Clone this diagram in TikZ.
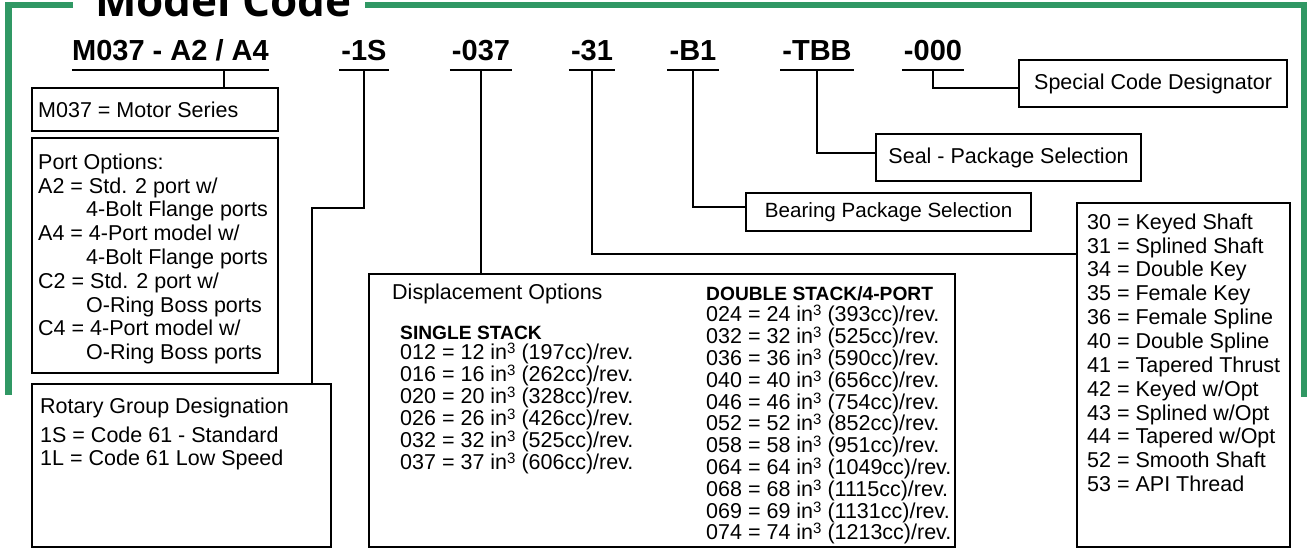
\documentclass[tikz,border=0pt]{standalone}
\usepackage{fontspec}
\setmainfont{Liberation Sans}
\newfontfamily\titlefont{Open Sans}
\usetikzlibrary{positioning}
\definecolor{framegreen}{RGB}{48,152,100}
\newcommand{\cuin}{in\raisebox{6pt}{\fontsize{15}{15}\selectfont 3}}

\begin{document}
\begin{tikzpicture}[
    x=1pt, y=-1pt,
    greenframe/.style={draw=framegreen, line width=6.6pt},
    codetext/.style={font=\bfseries\fontsize{29}{29}\selectfont, anchor=base,
      inner xsep=2pt, inner ysep=9pt, text depth=0pt},
    uline/.style={draw, line width=2pt},
    connector/.style={draw, line width=2pt},
    optbox/.style={draw, line width=2.2pt, anchor=north west, inner sep=0pt},
    tagbox/.style={draw, line width=2.2pt, anchor=north west, inner sep=0pt,
      font=\fontsize{21.5}{24}\selectfont},
    boxtext/.style={anchor=north west, align=left, inner sep=0pt,
      font=\fontsize{21.5}{23.8}\selectfont}
  ]
  \useasboundingbox (0,0) rectangle (1307,548);
  \clip (0,0) rectangle (1307,548);

  % frame and title
  \node[anchor=base west, inner sep=0pt,
    font=\titlefont\bfseries\fontsize{44}{44}\selectfont] (title) at (95,17) {Model Code};
  \draw[greenframe] (73,5) -- (8.3,5) -- (8.3,395);
  \draw[greenframe] (365,5) -- (1304,5) -- (1304,397);

  % model code parts
  \node[codetext, inner xsep=0pt] (series) at (170.5,61) {M037 - A2 / A4};
  \node[codetext] (rotary) at (364,61) {-1S};
  \node[codetext] (displ) at (481,61) {-037};
  \node[codetext] (shaft) at (592,61) {-31};
  \node[codetext] (bearing) at (693,61) {-B1};
  \node[codetext] (seal) at (817,61) {-TBB};
  \node[codetext] (special) at (933,61) {-000};
  \foreach \c in {series,rotary,displ,shaft,bearing,seal,special}
    \draw[uline] (\c.south west) -- (\c.south east);

  % option boxes
  \node[optbox, minimum width=246pt, minimum height=43pt] (seriesbox) at (31,87) {};
  \node[boxtext, below right=14.5pt and 7pt of seriesbox.north west] (seriestext)
    {M037 = Motor Series};

  \node[optbox, minimum width=246pt, minimum height=235pt] (portbox) at (31,137) {};
  \node[boxtext, below right=16.5pt and 7pt of portbox.north west] (porttext)
    {Port Options:\\
     A2 = Std. 2 port w/\\
     \hspace*{48pt}4-Bolt Flange ports\\
     A4 = 4-Port model w/\\
     \hspace*{48pt}4-Bolt Flange ports\\
     C2 = Std. 2 port w/\\
     \hspace*{48pt}O-Ring Boss ports\\
     C4 = 4-Port model w/\\
     \hspace*{48pt}O-Ring Boss ports};

  \node[optbox, minimum width=299pt, minimum height=163pt] (rotarybox) at (31,383) {};
  \node[boxtext, below right=14.5pt and 9pt of rotarybox.north west] (rotarytext)
    {Rotary Group Designation\\[5pt]
     1S = Code 61 - Standard\\
     1L = Code 61 Low Speed};

  \node[optbox, minimum width=586pt, minimum height=273pt] (displbox) at (368,273) {};
  \node[boxtext, below right=10.5pt and 24pt of displbox.north west] (displtitle)
    {Displacement Options};
  \node[boxtext, font=\fontsize{21.5}{22}\selectfont,
    below right=53pt and 32pt of displbox.north west] (single)
    {\textbf{\fontsize{19.2}{22}\selectfont SINGLE STACK}\\[-2pt]
     012 = 12 \cuin{} (197cc)/rev.\\
     016 = 16 \cuin{} (262cc)/rev.\\
     020 = 20 \cuin{} (328cc)/rev.\\
     026 = 26 \cuin{} (426cc)/rev.\\
     032 = 32 \cuin{} (525cc)/rev.\\
     037 = 37 \cuin{} (606cc)/rev.};
  \node[boxtext, font=\fontsize{21.5}{21.8}\selectfont,
    below right=13pt and 338pt of displbox.north west] (double)
    {\textbf{\fontsize{19.2}{22}\selectfont DOUBLE STACK/4-PORT}\\
     024 = 24 \cuin{} (393cc)/rev.\\
     032 = 32 \cuin{} (525cc)/rev.\\
     036 = 36 \cuin{} (590cc)/rev.\\
     040 = 40 \cuin{} (656cc)/rev.\\
     046 = 46 \cuin{} (754cc)/rev.\\
     052 = 52 \cuin{} (852cc)/rev.\\
     058 = 58 \cuin{} (951cc)/rev.\\
     064 = 64 \cuin{} (1049cc)/rev.\\
     068 = 68 \cuin{} (1115cc)/rev.\\
     069 = 69 \cuin{} (1131cc)/rev.\\
     074 = 74 \cuin{} (1213cc)/rev.};

  \node[optbox, minimum width=213pt, minimum height=344pt] (shaftbox) at (1076,202) {};
  \node[boxtext, font=\fontsize{21.5}{23.85}\selectfont,
    below right=11.5pt and 11pt of shaftbox.north west] (shafttext)
    {30 = Keyed Shaft\\
     31 = Splined Shaft\\
     34 = Double Key\\
     35 = Female Key\\
     36 = Female Spline\\
     40 = Double Spline\\
     41 = Tapered Thrust\\
     42 = Keyed w/Opt\\
     43 = Splined w/Opt\\
     44 = Tapered w/Opt\\
     52 = Smooth Shaft\\
     53 = API Thread};

  \node[tagbox, minimum width=268pt, minimum height=47pt] (specialbox) at (1018,59)
    {Special Code Designator};
  \node[tagbox, minimum width=265pt, minimum height=47pt] (sealbox) at (875,133)
    {Seal - Package Selection};
  \node[tagbox, minimum width=285pt, minimum height=38pt,
    font=\fontsize{20.6}{24}\selectfont] (bearingbox) at (745,192)
    {Bearing Package Selection};

  % connectors
  \coordinate (seriesdrop) at ([xshift=53.5pt]series.south);
  \draw[connector] (seriesdrop) -- (seriesdrop |- seriesbox.north);
  \draw[connector] (rotary.south) -- ++(0,138) -| ([xshift=-20pt]rotarybox.north east);
  \draw[connector] (displ.south) -- (displ.south |- displbox.north);
  \draw[connector] (shaft.south) |- ([yshift=-52pt]shaftbox.north west);
  \draw[connector] (bearing.south) |- ([yshift=-15pt]bearingbox.north west);
  \draw[connector] (seal.south) |- ([yshift=-20pt]sealbox.north west);
  \draw[connector] (special.south) |- ([yshift=-29pt]specialbox.north west);
\end{tikzpicture}
\end{document}
